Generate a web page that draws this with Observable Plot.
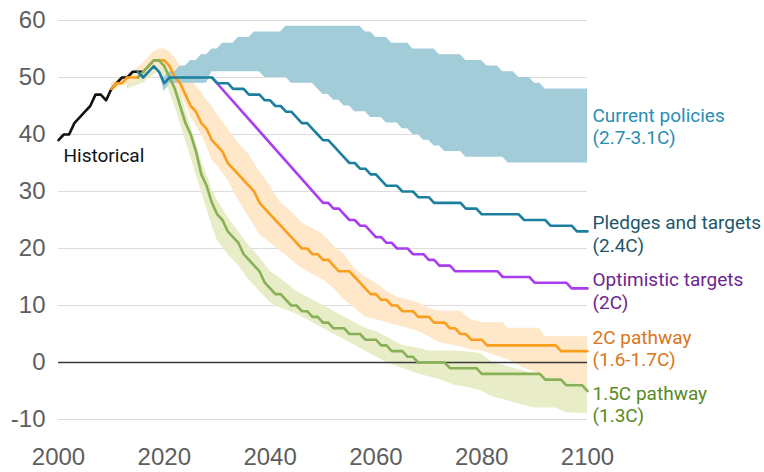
<!DOCTYPE html>
<html><head><meta charset="utf-8">
<script src="https://cdn.jsdelivr.net/npm/d3@7"></script>
<script src="https://cdn.jsdelivr.net/npm/@observablehq/plot@0.6"></script>
<style>
html,body{margin:0;padding:0;background:#fff;}
#chart svg{display:block;}
</style></head><body><div id="chart"></div>
<script>
// ---- Data (Gt CO2e) ----
const historicalStart = 2000;
const historical = [39,40,40,42,43,44,45,47,47,46, 48,49,50,50,51,51,51];

const pledgesStart = 2015;
const pledges = [51,50,51,52,51,
  49,50,50,50,50,50,50,50,50,50,
  49,49,49,48,48,48,47,47,47,46,
  46,45,45,44,44,43,42,42,41,40,
  39,39,38,37,36,35,35,34,34,33,
  33,32,31,31,31,30,30,30,29,29,
  29,28,28,28,28,28,28,27,27,27,
  26,26,26,26,26,26,26,26,25,25,
  25,25,25,24,24,24,24,24,23,23,
  23];

const optimisticStart = [2029, 50];
const optimisticLateStart = 2050;
const optimisticLate = [28,28,27,27,26,25,25,24,24,23,
  22,22,21,21,20,20,20,19,19,19,
  18,18,17,17,17,16,16,16,16,16,
  16,16,16,16,15,15,15,15,15,15,
  14,14,14,14,14,14,14,13,13,13,
  13];

const path2Start = 2010;
const path2 = [48,49,49,50,50,50,51,52,53,53,
  53,52,50,49,47,45,44,42,41,39,
  38,37,35,34,33,32,31,30,28,27,
  26,25,24,23,22,21,20,20,19,19,
  18,18,17,16,16,16,15,14,13,12,
  12,11,11,10,10,9,9,9,8,8,
  8,7,7,7,6,6,5,5,4,4,
  4,3,3,3,3,3,3,3,3,3,
  3,3,3,3,3,2,2,2,2,2,
  2];

const path15Start = 2015;
const path15 = [50,51,52,53,53,
  52,50,48,45,42,40,37,33,31,28,
  26,25,23,22,21,19,18,17,16,14,
  13,12,12,11,10,10,9,9,8,8,
  7,7,6,6,6,5,5,5,4,4,
  4,3,3,2,2,2,1,1,0,0,
  0,0,0,0,-1,-1,-1,-1,-1,-1,
  -2,-2,-2,-2,-2,-2,-2,-2,-2,-2,
  -2,-2,-3,-3,-3,-3,-4,-4,-4,-4,
  -5];

// Current policies range (annual, 2019-2100)
const currentStart = 2019;
const currentHigh = [51,
  50,51,51,52,52,53,53,54,54,55,
  55,56,56,56,57,57,57,58,58,58,
  58,58,58,59,59,59,59,59,59,59,
  59,59,59,59,59,59,59,59,58,58,
  57,57,57,56,56,56,56,55,55,55,
  55,55,54,54,54,54,54,53,53,53,
  53,52,52,52,51,51,51,50,50,50,
  49,49,48,48,48,48,48,48,48,48,
  48];
const currentLow = [51,
  47.5,49,49,49,49,49,49,49,49,51,
  51,51,51,51,51,51,51,51,51,50,
  50,50,50,50,49,49,49,49,49,48,
  47,47,46,46,45,45,44,44,44,43,
  43,43,42,42,42,41,41,40,40,39,
  39,38,38,37,37,37,37,36,36,36,
  36,36,36,36,36,35,35,35,35,35,
  35,35,35,35,35,35,35,35,35,35,
  35];

// 2C pathway range: [year, low, high]
const range2C = [
  [2010,47.5,49],[2012,48.5,50],[2014,49,51],[2016,50,52.5],[2018,51.5,54.5],
  [2019,52,55],[2020,51.5,55],[2021,50,54.5],[2022,49,53.5],[2023,47,52],
  [2024,45.5,51],[2025,43,49.5],[2026,41.5,48.5],[2027,40,47.5],[2028,38,46],
  [2029,35.5,45],[2030,34.5,43.5],[2032,32,41],[2034,28.5,38.5],[2036,25.5,36.5],
  [2037,24,35],[2038,22.5,33.5],[2040,21,31],[2042,19.5,28],[2044,18,26.5],
  [2046,16.5,24.5],[2048,15.5,23.5],[2050,14.5,22.5],[2052,13,20.5],[2054,11,19],
  [2056,9.5,16.5],[2058,8,15],[2060,7.5,14],[2062,7,12.5],[2064,6.5,11.5],
  [2066,6,11],[2068,5.5,10.5],[2070,4.5,9.5],[2072,3.5,9],[2076,2.7,9],
  [2078,2.2,7.5],[2080,2,7],[2084,0.8,7],[2085,0.5,6],[2088,-1,6],[2091,-2,6],
  [2092,-2.5,4.5],[2095,-3,4.5],[2100,-4,4.5]
];

// 1.5C pathway range: [year, low, high]
const range15C = [
  [2013,48,50],[2016,49,52],[2018,50.5,53],[2019,51,53.5],[2020,50,53.5],
  [2021,47.5,51.5],[2022,45,50],[2023,42,47.5],[2024,39,44.5],[2025,36,41.5],
  [2026,33,38.5],[2027,30,35.5],[2028,27,33],[2029,24,30.5],[2030,21.5,28.5],
  [2032,19,25.5],[2034,17,23],[2036,14.5,20.5],[2038,12.5,18.5],[2040,10.5,16],
  [2042,9.5,14.7],[2045,8.5,12.5],[2048,7,11],[2050,6,10],[2052,5,9],
  [2055,3.5,7.5],[2058,2,6],[2060,1,5.5],[2062,0,4.5],[2065,-1,3],
  [2068,-2,2.5],[2070,-2.5,2],[2072,-3,2],[2075,-4,2],[2078,-4.5,1.8],
  [2080,-5,1.5],[2082,-6,0],[2084,-6.5,-0.5],[2086,-7,-1],[2088,-7.5,-1.5],
  [2090,-8,-2],[2094,-8,-2.5],[2096,-8.8,-3],[2100,-9,-3]
];

const yTicks = [-10,0,10,20,30,40,50,60];
const xTicks = [2000,2020,2040,2060,2080,2100];

const labelNames = ["Current policies","Pledges and targets","Optimistic targets","2C pathway","1.5C pathway"];
const labelSubs = ["(2.7-3.1C)","(2.4C)","(2C)","(1.6-1.7C)","(1.3C)"];
const historicalLabel = "Historical";

// ---- Build tables ----
const toRows = (start, values) => values.map((v, i) => ({year: start + i, value: v}));
const histRows = toRows(historicalStart, historical);
const pledgeRows = toRows(pledgesStart, pledges);
const optRows = [{year: optimisticStart[0], value: optimisticStart[1]}, ...toRows(optimisticLateStart, optimisticLate)];
const p2Rows = toRows(path2Start, path2);
const p15Rows = toRows(path15Start, path15);
const currentRows = currentHigh.map((h, i) => ({year: currentStart + i, hi: h, lo: currentLow[i]}));
const r2Rows = range2C.map(([year, lo, hi]) => ({year, lo, hi}));
const r15Rows = range15C.map(([year, lo, hi]) => ({year, lo, hi}));

const last = a => a[a.length - 1];
const labelAnchors = [
  {year: last(currentRows).year, value: (last(currentRows).lo + last(currentRows).hi) / 2},
  last(pledgeRows), last(optRows), last(p2Rows), last(p15Rows)
];
const labelColors = ["#2a8db3", "#1d566b", "#6c258e", "#d9761c", "#588a1f"];
const labelDy = [-20, -18, -18, -23, -7];
const labelFont = "Roboto, 'Liberation Sans', sans-serif";
const labelSize = 19;

const lineW = 2.6;

const chart = Plot.plot({
  width: 764,
  height: 472,
  marginLeft: 58,
  marginRight: 177,
  marginTop: 20,
  marginBottom: 53,
  style: {fontFamily: "'Liberation Sans', Arial, sans-serif", fontSize: "24px", background: "#fff", overflow: "visible"},
  x: {domain: [2000, 2100]},
  y: {domain: [-10, 60]},
  marks: [
    Plot.gridY(yTicks.filter(t => t !== 0), {stroke: "#dcdcdc", strokeOpacity: 1, strokeWidth: 1.2}),
    Plot.axisY(yTicks, {tickSize: 0, tickPadding: 13, fontSize: 24, color: "#5e5e5e", label: null, tickFormat: d => String(d)}),
    Plot.axisX(xTicks, {tickSize: 0, tickPadding: 28, fontSize: 24, color: "#5e5e5e", label: null, tickFormat: d => String(d)}),
    Plot.areaY(r15Rows, {x: "year", y1: "lo", y2: "hi", fill: "#e8edc7"}),
    Plot.areaY(r2Rows, {x: "year", y1: "lo", y2: "hi", fill: "#fee8c9"}),
    Plot.areaY(currentRows, {x: "year", y1: "lo", y2: "hi", fill: "#a3ccd9"}),
    Plot.ruleY([0], {stroke: "#3a3a3a", strokeWidth: 1.6}),
    Plot.line(histRows, {x: "year", y: "value", stroke: "#111", strokeWidth: lineW}),
    Plot.line(p2Rows, {x: "year", y: "value", stroke: "#fb9e1d", strokeWidth: lineW}),
    Plot.line(p15Rows, {x: "year", y: "value", stroke: "#88b057", strokeWidth: lineW}),
    Plot.line(optRows, {x: "year", y: "value", stroke: "#a93df0", strokeWidth: lineW}),
    Plot.line(pledgeRows, {x: "year", y: "value", stroke: "#1c7fa0", strokeWidth: lineW}),
    Plot.text([histRows[0]], {x: "year", y: "value", text: () => historicalLabel, textAnchor: "start",
      lineAnchor: "top", dx: 5, dy: 8, fill: "#111", fontSize: labelSize, fontFamily: labelFont}),
    ...labelAnchors.map((a, i) => Plot.text([a], {
      x: "year", y: "value",
      text: () => labelNames[i] + "\n" + labelSubs[i],
      textAnchor: "start", lineAnchor: "top", lineHeight: 1.18,
      dx: 5, dy: labelDy[i], fill: labelColors[i], fontSize: labelSize, fontFamily: labelFont
    }))
  ]
});
document.getElementById("chart").appendChild(chart);
</script></body></html>
